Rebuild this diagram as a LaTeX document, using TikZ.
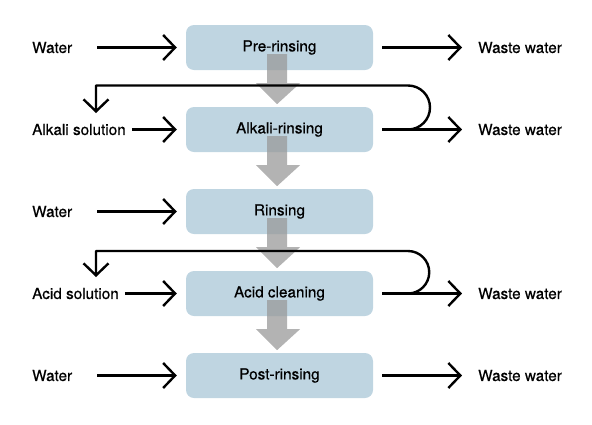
\documentclass[tikz,border=0pt]{standalone}
\usepackage{fontspec}
\newfontfamily\labelfont[FakeBold=0.5]{TeX Gyre Heros}
\usetikzlibrary{arrows.meta,calc}

\definecolor{boxblue}{HTML}{BFD5E1}
\definecolor{flowgrey}{HTML}{999999}

\tikzset{
  stage/.style={fill=boxblue, rounded corners=8pt, minimum width=187pt, minimum height=45pt, inner sep=0pt},
  label/.style={anchor=west, inner sep=0pt},
  flow/.style={line width=2.4pt, -{Straight Barb[length=12pt,width=25pt,line width=2.4pt]}},
  loop/.style={line width=2.4pt, line join=round, -{Straight Barb[length=12pt,width=25pt,line width=2.4pt]}},
}

\begin{document}
\begin{tikzpicture}[x=1pt, y=-1pt, font=\labelfont\fontsize{15.3}{18}\selectfont]
\useasboundingbox (0, 0) rectangle (592, 424);

\node[stage] (pre) at (279.5, 47.5) {Pre-rinsing};
\node[stage] (alkali) at (279.5, 129.5) {Alkali-rinsing};
\node[stage] (rinse) at (279.5, 211.5) {Rinsing};
\node[stage] (acid) at (279.5, 293.5) {Acid cleaning};
\node[stage] (post) at (279.5, 375.5) {Post-rinsing};

% grey arrows between the stages
\foreach \a/\b in {pre/alkali, alkali/rinse, rinse/acid, acid/post}
  \fill[flowgrey, opacity=0.75]
    ($(\a.south)+(-12.5,-16)$) -- ($(\a.south)+(7.5,-16)$) -- ($(\a.south)+(7.5,13)$)
    -- ($(\a.south)+(20.5,13)$) -- ($(\a.south)+(-2.5,34)$) -- ($(\a.south)+(-23.5,13)$)
    -- ($(\a.south)+(-12.5,13)$) -- cycle;

\node[label] (in1) at (32, 47.5) {Water};
\node[label] (in2) at (32, 129.5) {Alkali solution};
\node[label] (in3) at (32, 211.5) {Water};
\node[label] (in4) at (32, 293.5) {Acid solution};
\node[label] (in5) at (32, 375.5) {Water};

\node[label] (out1) at (478, 47.5) {Waste water};
\node[label] (out2) at (478, 129.5) {Waste water};
\node[label] (out4) at (478, 293.5) {Waste water};
\node[label] (out5) at (478, 375.5) {Waste water};

\coordinate (s1) at (97, 47.5);
\coordinate (s3) at (97, 211.5);
\coordinate (s5) at (97, 375.5);

\draw[flow, shorten >=9pt] (s1) -- (pre.west);
\draw[flow, shorten >=9pt, shorten <=6pt] (in2.east) -- (alkali.west);
\draw[flow, shorten >=9pt] (s3) -- (rinse.west);
\draw[flow, shorten >=9pt, shorten <=6pt] (in4.east) -- (acid.west);
\draw[flow, shorten >=9pt] (s5) -- (post.west);

\draw[flow, shorten <=9pt, shorten >=16pt] (pre.east) -- (out1.west);
\draw[flow, shorten <=9pt, shorten >=16pt] (alkali.east) -- (out2.west);
\draw[flow, shorten <=9pt, shorten >=16pt] (acid.east) -- (out4.west);
\draw[flow, shorten <=9pt, shorten >=16pt] (post.east) -- (out5.west);

% return loops
\coordinate (r2) at (408, 129.5);
\coordinate (d2) at (96, 113);
\coordinate (r4) at (408, 293.5);
\coordinate (d4) at (96, 277);

\draw[loop] (r2) arc[start angle=90, end angle=-90, radius=22] -| (d2);
\draw[loop] (r4) arc[start angle=90, end angle=-90, radius=21.25] -| (d4);

\end{tikzpicture}
\end{document}
